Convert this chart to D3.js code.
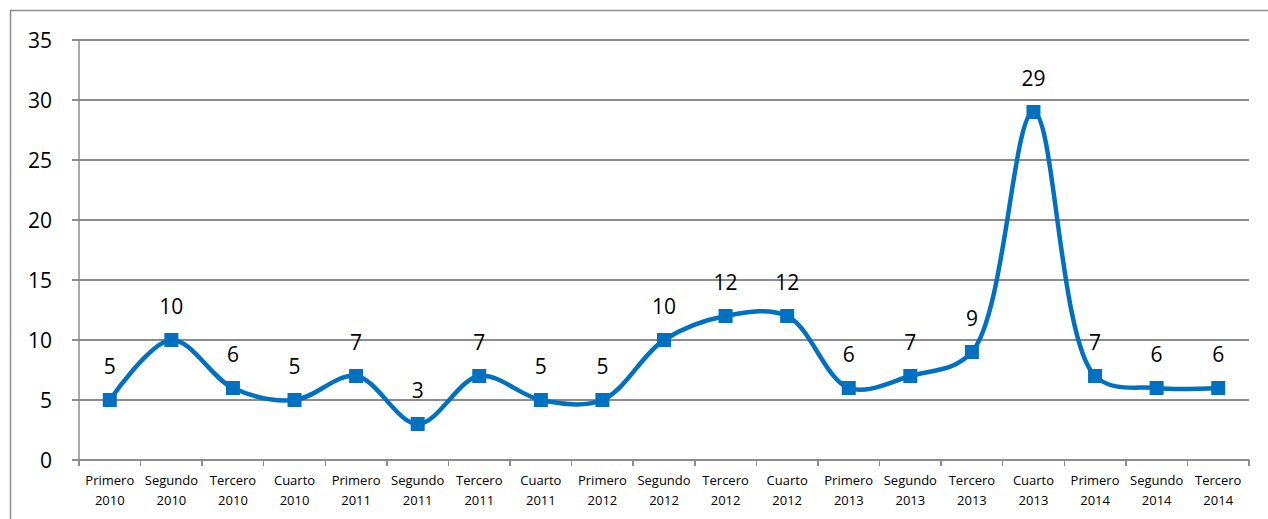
<!DOCTYPE html>
<meta charset="utf-8">
<style>
body { margin: 0; background: #fff; }
svg { font-family: "Open Sans", sans-serif; }
.grid line { stroke: #8c8c8c; stroke-width: 1.5; shape-rendering: crispEdges; }
.axis path, .axis line { fill: none; stroke: #8c8c8c; stroke-width: 1.5; shape-rendering: crispEdges; }
</style>
<body></body>
<script src="https://cdnjs.cloudflare.com/ajax/libs/d3/7.8.5/d3.min.js"></script>
<script>
// periodos y años
var periods = ["Primero","Segundo","Tercero","Cuarto","Primero","Segundo","Tercero","Cuarto","Primero","Segundo","Tercero","Cuarto","Primero","Segundo","Tercero","Cuarto","Primero","Segundo","Tercero"];
var years = ["2010","2010","2010","2010","2011","2011","2011","2011","2012","2012","2012","2012","2013","2013","2013","2013","2014","2014","2014"];
var values = [5,10,6,5,7,3,7,5,5,10,12,12,6,7,9,29,7,6,6];
var yTicks = [0,5,10,15,20,25,30,35];

var margin = {top: 40, right: 19, bottom: 59, left: 79},
    width = 1268 - margin.left - margin.right,
    height = 519 - margin.top - margin.bottom;

var cats = values.map(function(d, i) { return i; });
var xScale = d3.scaleBand().domain(cats).range([0, width]);
var yScale = d3.scaleLinear().domain([0, 35]).range([height, 0]);

var svg = d3.select("body").append("svg")
    .attr("width", 1268)
    .attr("height", 519);

// marco
svg.append("rect")
    .attr("x", 10.5).attr("y", 10.5)
    .attr("width", 1300).attr("height", 600)
    .attr("fill", "none").attr("stroke", "#8c8c8c").attr("stroke-width", 1.5);

var g = svg.append("g")
    .attr("transform", "translate(" + margin.left + "," + margin.top + ")");

// lineas horizontales
g.append("g").attr("class", "grid")
  .selectAll("line").data(yTicks).enter().append("line")
    .attr("x1", -7).attr("x2", width)
    .attr("y1", function(d) { return yScale(d); })
    .attr("y2", function(d) { return yScale(d); });

g.append("g").attr("class", "y-labels")
  .selectAll("text").data(yTicks).enter().append("text")
    .attr("x", -27)
    .attr("y", function(d) { return yScale(d); })
    .attr("dy", "0.36em")
    .attr("text-anchor", "end")
    .attr("font-size", 21)
    .attr("fill", "#000")
    .text(function(d) { return d; });

// eje Y
g.append("line")
    .attr("class", "axis")
    .attr("x1", 0).attr("x2", 0).attr("y1", 0).attr("y2", height)
    .attr("stroke", "#8c8c8c").attr("stroke-width", 1.5);

// eje X con marcas en los bordes
var edges = cats.concat([cats.length]);
g.append("g").attr("class", "axis")
  .selectAll("line").data(edges).enter().append("line")
    .attr("x1", function(d) { return d * xScale.step(); })
    .attr("x2", function(d) { return d * xScale.step(); })
    .attr("y1", height).attr("y2", height + 6);
g.append("line").attr("class", "axis")
    .attr("x1", 0).attr("x2", width).attr("y1", height).attr("y2", height)
    .attr("stroke", "#8c8c8c").attr("stroke-width", 1.5);

var xl = g.append("g").selectAll("text").data(cats).enter().append("text")
    .attr("text-anchor", "middle")
    .attr("font-size", 13)
    .attr("fill", "#000")
    .attr("transform", function(d) { return "translate(" + (xScale(d) + xScale.bandwidth() / 2) + "," + (height + 25) + ")"; });
xl.append("tspan").attr("x", 0).attr("y", 0).text(function(d) { return periods[d]; });
xl.append("tspan").attr("x", 0).attr("y", 20).text(function(d) { return years[d]; });

// linea suavizada
var line = d3.line()
    .x(function(d, i) { return xScale(i) + xScale.bandwidth() / 2; })
    .y(function(d) { return yScale(d); })
    .curve(d3.curveCatmullRom.alpha(0.5));

g.append("path")
    .datum(values)
    .attr("fill", "none")
    .attr("stroke", "#0070c0")
    .attr("stroke-width", 4.5)
    .attr("d", line);

g.selectAll(".pt").data(values).enter().append("rect")
    .attr("class", "pt")
    .attr("x", function(d, i) { return xScale(i) + xScale.bandwidth() / 2 - 7; })
    .attr("y", function(d) { return yScale(d) - 7; })
    .attr("width", 14).attr("height", 14)
    .attr("fill", "#0070c0");

g.selectAll(".lbl").data(values).enter().append("text")
    .attr("class", "lbl")
    .attr("x", function(d, i) { return xScale(i) + xScale.bandwidth() / 2; })
    .attr("y", function(d) { return yScale(d) - 34; })
    .attr("dy", "0.36em")
    .attr("text-anchor", "middle")
    .attr("font-size", 21)
    .attr("fill", "#000")
    .text(function(d) { return d; });
</script>
